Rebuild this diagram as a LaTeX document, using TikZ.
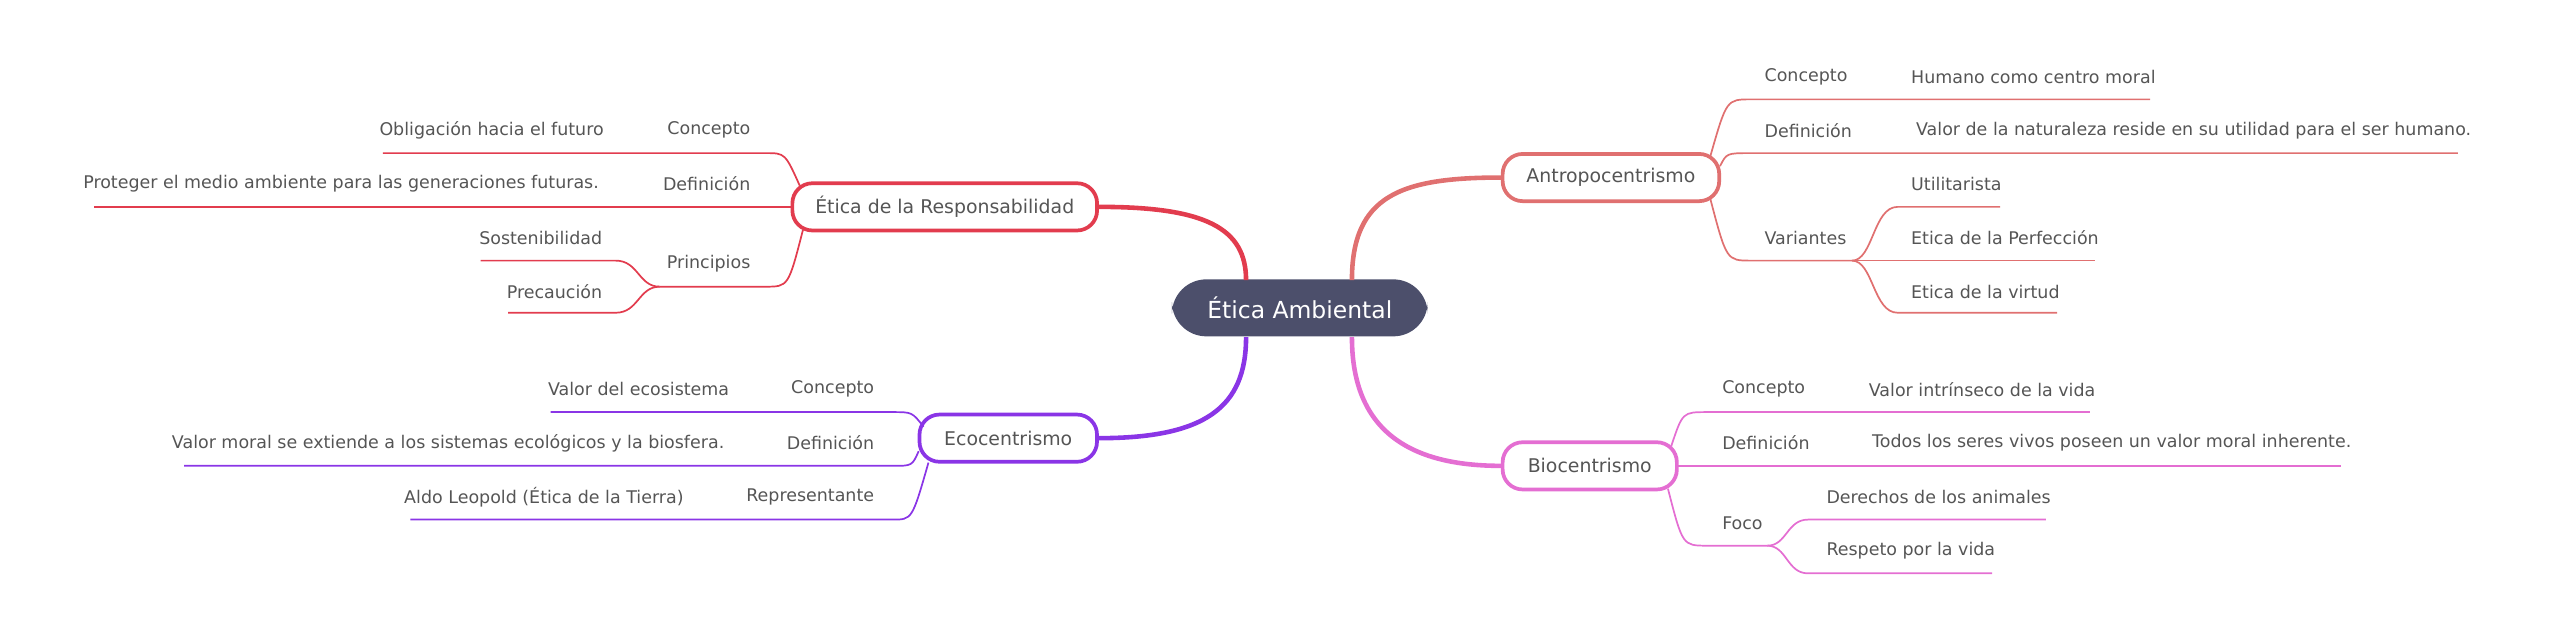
\documentclass[tikz,border=0pt]{standalone}
\usepackage{fontspec}
\setmainfont{DejaVu Sans}
\definecolor{antro}{HTML}{E07070}
\definecolor{resp}{HTML}{E23C4E}
\definecolor{eco}{HTML}{8A35E6}
\definecolor{bio}{HTML}{E46ED2}
\definecolor{centro}{HTML}{4C4F6B}
\definecolor{txt}{HTML}{555555}
\tikzset{
  topic/.style={draw,line width=1.3pt,rounded corners=7pt,fill=white,text=txt,font=\fontsize{6.6pt}{8pt}\selectfont,minimum height=0.58cm,inner xsep=8pt},
  lab/.style={text=txt,font=\fontsize{6.1pt}{8pt}\selectfont,inner sep=0pt},
  main/.style={line width=1.6pt},
  sub/.style={line width=0.6pt}
}
\begin{document}
\begin{tikzpicture}[x=0.02cm,y=-0.02cm]
\useasboundingbox (0,0) rectangle (1568,379);

\node[fill=centro,rounded corners=12pt,minimum width=3.14cm,minimum height=0.7cm,text=white,font=\fontsize{8.2pt}{10pt}\selectfont] (c) at (798,189) {Ética Ambiental};

\node[topic,draw=antro,minimum width=2.66cm] (antro) at (989,109) {Antropocentrismo};
\node[topic,draw=resp,minimum width=3.72cm] (resp) at (580,127) {Ética de la Responsabilidad};
\node[topic,draw=eco,minimum width=2.18cm] (eco) at (619,269) {Ecocentrismo};
\node[topic,draw=bio,minimum width=2.14cm] (bio) at (976,286) {Biocentrismo};

\draw[main,antro] (830,172) .. controls (830,120) and (860,109) .. (antro.west);
\draw[main,resp] (765,172) .. controls (765,140) and (740,127) .. (resp.east);
\draw[main,eco] (765,207) .. controls (765,250) and (740,269) .. (eco.east);
\draw[main,bio] (830,207) .. controls (830,260) and (860,286) .. (bio.west);

% Antropocentrismo
\begin{scope}[sub,antro]
\draw (1050,96) .. controls (1060,61) .. (1075,61) -- (1320,61);
\draw (1056,102) .. controls (1060,94) .. (1075,94) -- (1509,94);
\draw (1050,122) .. controls (1060,160) .. (1075,160) -- (1137,160);
\draw (1137,160) .. controls (1150,160) and (1150,127) .. (1165,127) -- (1228,127);
\draw (1137,160) -- (1286,160);
\draw (1137,160) .. controls (1150,160) and (1150,192) .. (1165,192) -- (1263,192);
\end{scope}
\node[lab,anchor=west] (a1) at (1083,47) {Concepto};
\node[lab,anchor=west] (a1g) at (1173,47) {Humano como centro moral};
\node[lab,anchor=west] (a2) at (1083,80) {Definición};
\node[lab,anchor=west] (a2g) at (1176,80) {Valor de la naturaleza reside en su utilidad para el ser humano.};
\node[lab,anchor=west] (a3) at (1083,146) {Variantes};
\node[lab,anchor=west] (a31) at (1173,113) {Utilitarista};
\node[lab,anchor=west] (a32) at (1173,146) {Etica de la Perfección};
\node[lab,anchor=west] (a33) at (1173,179) {Etica de la virtud};

% Responsabilidad
\begin{scope}[sub,resp]
\draw (491,114) .. controls (482,94) .. (470,94) -- (235,94);
\draw (487,127) -- (58,127);
\draw (493,141) .. controls (484,176) .. (470,176) -- (405,176);
\draw (405,176) .. controls (392,176) and (392,160) .. (378,160) -- (295,160);
\draw (405,176) .. controls (392,176) and (392,192) .. (378,192) -- (312,192);
\end{scope}
\node[lab,anchor=east] (r1) at (461,80) {Concepto};
\node[lab,anchor=east] (r1g) at (371,80) {Obligación hacia el futuro};
\node[lab,anchor=east] (r2) at (461,113) {Definición};
\node[lab,anchor=east] (r2g) at (368,113) {Proteger el medio ambiente para las generaciones futuras.};
\node[lab,anchor=east] (r3) at (461,162) {Principios};
\node[lab,anchor=east] (r31) at (370,146) {Sostenibilidad};
\node[lab,anchor=east] (r32) at (370,179) {Precaución};

% Ecocentrismo
\begin{scope}[sub,eco]
\draw (567,262) .. controls (560,253) .. (548,253) -- (338,253);
\draw (564,277) .. controls (560,286) .. (548,286) -- (113,286);
\draw (570,284) .. controls (560,319) .. (548,319) -- (252,319);
\end{scope}
\node[lab,anchor=east] (e1) at (537,239) {Concepto};
\node[lab,anchor=east] (e1g) at (448,239) {Valor del ecosistema};
\node[lab,anchor=east] (e2) at (537,272) {Definición};
\node[lab,anchor=east] (e2g) at (445,272) {Valor moral se extiende a los sistemas ecológicos y la biosfera.};
\node[lab,anchor=east] (e3) at (537,305) {Representante};
\node[lab,anchor=east] (e3g) at (420,305) {Aldo Leopold (Ética de la Tierra)};

% Biocentrismo
\begin{scope}[sub,bio]
\draw (1026,274) .. controls (1033,253) .. (1048,253) -- (1283,253);
\draw (1030,286) -- (1437,286);
\draw (1024,300) .. controls (1033,335) .. (1048,335) -- (1085,335);
\draw (1085,335) .. controls (1097,335) and (1097,319) .. (1110,319) -- (1256,319);
\draw (1085,335) .. controls (1097,335) and (1097,352) .. (1110,352) -- (1223,352);
\end{scope}
\node[lab,anchor=west] (b1) at (1057,239) {Concepto};
\node[lab,anchor=west] (b1g) at (1147,239) {Valor intrínseco de la vida};
\node[lab,anchor=west] (b2) at (1057,272) {Definición};
\node[lab,anchor=west] (b2g) at (1149,272) {Todos los seres vivos poseen un valor moral inherente.};
\node[lab,anchor=west] (b3) at (1057,321) {Foco};
\node[lab,anchor=west] (b31) at (1121,305) {Derechos de los animales};
\node[lab,anchor=west] (b32) at (1121,338) {Respeto por la vida};
\end{tikzpicture}
\end{document}
